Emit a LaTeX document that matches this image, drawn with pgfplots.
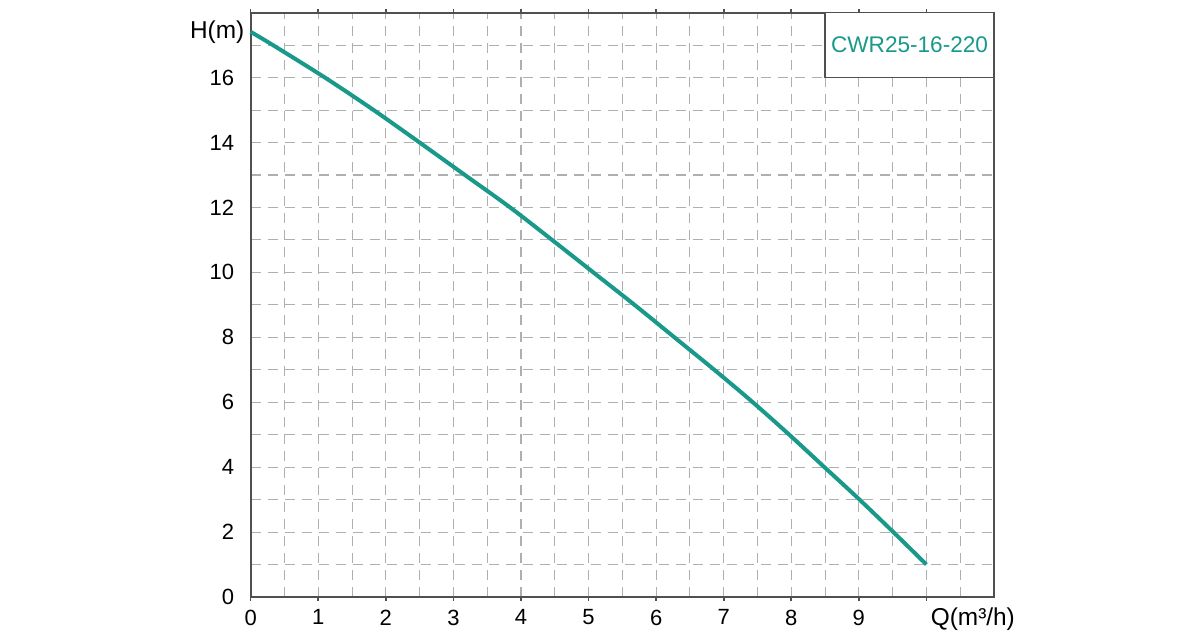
\documentclass[border=0pt]{standalone}
\usepackage{fontspec}
\setmainfont{Liberation Sans}
\usepackage{pgfplots}
\pgfplotsset{compat=1.18}
\definecolor{curve}{RGB}{24,153,138}
\definecolor{gridc}{RGB}{175,175,175}
\definecolor{frame}{RGB}{80,80,80}

\begin{document}
\begin{tikzpicture}
\begin{axis}[
  scale only axis,
  width=371.65pt, height=292.15pt,
  xmin=0, xmax=11, ymin=0, ymax=18,
  xtick={0,...,10},
  xticklabels={0,1,2,3,4,5,6,7,8,9,{}},
  minor xtick={0.5,1.5,...,10.5},
  ytick={0,2,...,16},
  minor ytick={1,3,...,17},
  grid=both,
  major grid style={gridc, line width=0.55pt, dash pattern=on 5pt off 3.5pt},
  minor grid style={gridc, line width=0.55pt, dash pattern=on 5pt off 3.5pt},
  axis line style={frame, line width=1pt},
  tick align=outside,
  major tick length=1.8pt,
  minor tick length=0pt,
  xtick style={frame, line width=0.8pt},
  ytick style={draw=none},
  ticklabel style={font=\fontsize{11}{13}\selectfont, text=black},
  xticklabel style={yshift=-1pt},
  yticklabel style={xshift=-3pt},
  /pgf/number format/assume math mode=true,
  clip=false,
]
% Q (m3/h), H (m)
\addplot[curve, line width=2pt, smooth] coordinates {
  (0,17.41) (0.33,17) (1.10,16) (1.82,15) (2.50,14) (3.17,13)
  (3.84,12) (4.46,11) (5.07,10) (5.68,9) (6.27,8) (6.86,7)
  (7.43,6) (7.97,5) (8.49,4) (9.01,3) (9.51,2) (10,1)
};
\draw[frame, line width=0.8pt, fill=white] (axis cs:8.5,16) rectangle (axis cs:11,18);
\node[text=curve, font=\fontsize{11.3}{14}\selectfont] at (axis cs:9.75,17) {CWR25-16-220};
\node[anchor=east, font=\fontsize{12.2}{14}\selectfont, inner sep=0pt] at ([xshift=-3pt]axis cs:0,17.4) {H(m)};
\node[anchor=north west, font=\fontsize{12.2}{14}\selectfont, inner sep=0pt] at ([xshift=2pt,yshift=-5pt]axis cs:10,0) {Q(m³/h)};
\coordinate (ll) at (rel axis cs:0,0);
\coordinate (ur) at (rel axis cs:1,1);
\end{axis}
\useasboundingbox ([shift={(-125.35pt,-20pt)}]ll) rectangle ([shift={(103pt,6.35pt)}]ur);
\end{tikzpicture}
\end{document}
